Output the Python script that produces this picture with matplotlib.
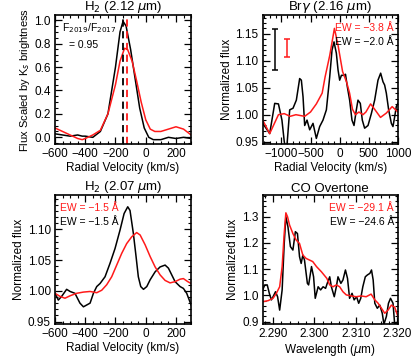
import numpy as np
import matplotlib
matplotlib.use("Agg")
import matplotlib.pyplot as plt
from matplotlib.ticker import AutoMinorLocator

plt.rcParams["font.family"] = ["Liberation Sans", "DejaVu Sans"]
plt.rcParams["mathtext.fontset"] = "dejavusans"

# --- H2 2.12 um (flux scaled) ---
h212_v_blk = [-600, -550, -500, -450, -420, -400, -350, -300, -250, -200, -170, -150,
              -130, -100, -70, -40, -10, 20, 50, 100, 150, 200, 250, 300]
h212_f_blk = [0.03, 0.02, 0.01, 0.02, 0.01, 0.01, 0.0, 0.05, 0.2, 0.6, 0.9, 0.99,
              0.95, 0.75, 0.5, 0.25, 0.08, 0.0, -0.02, -0.02, 0.0, -0.01, 0.0, -0.01]
h212_v_red = [-600, -550, -500, -450, -420, -400, -350, -300, -250, -200, -170, -140,
              -120, -90, -60, -30, 0, 30, 60, 100, 150, 200, 250, 300]
h212_f_red = [0.08, 0.05, 0.02, -0.01, -0.02, -0.01, 0.02, 0.06, 0.2, 0.45, 0.65, 0.76,
              0.75, 0.65, 0.48, 0.3, 0.15, 0.07, 0.05, 0.05, 0.07, 0.09, 0.07, 0.02]
h212_peak_blk = -148
h212_peak_red = -127

# --- Br gamma 2.16 um ---
brg_v_blk = [-1320, -1200, -1114, -1050, -990, -950, -913, -857, -800, -743, -686, -657,
             -628, -600, -560, -514, -457, -400, -343, -286, -228, -171, -131, -97,
             -57, -28, 0, 30, 74, 100, 131, 171, 211, 246, 286, 314, 354, 388, 428,
             486, 543, 600, 657, 703, 743, 771, 800, 840, 886, 914, 943, 971, 1000]
brg_f_blk = [0.984, 0.965, 1.021, 1.02, 0.99, 0.95, 0.93, 1.009, 1.012, 1.027, 1.067, 1.064,
             1.033, 0.98, 0.99, 0.972, 0.984, 0.956, 0.978, 0.99, 1.009, 1.07, 1.12, 1.135,
             1.114, 1.083, 1.064, 1.073, 1.073, 1.075, 1.052, 1.027, 0.99, 0.98, 1.009,
             1.027, 1.021, 0.99, 0.975, 0.98, 1.002, 1.027, 1.064, 1.077, 1.061, 1.055,
             1.04, 1.009, 0.984, 0.978, 0.996, 1.015, 1.021]
brg_v_red = [-1320, -1200, -1050, -950, -850, -750, -600, -500, -400, -300, -250, -170,
             -90, -30, 50, 120, 170, 220, 270, 330, 400, 450, 530, 600, 700, 800, 900, 1000]
brg_f_red = [0.99, 0.965, 1.0, 1.002, 0.997, 1.0, 0.997, 1.005, 1.02, 1.04, 1.07, 1.11,
             1.16, 1.13, 1.08, 1.06, 1.04, 1.01, 1.0, 1.005, 1.0, 1.005, 1.02, 1.01,
             0.995, 1.003, 1.015, 1.005]
brg_err_x = [-1109, -908]
brg_err_lo = [1.082, 1.107]
brg_err_hi = [1.158, 1.14]

# --- H2 2.07 um ---
h207_v_blk = [-600, -578, -556, -523, -500, -468, -435, -412, -390, -368, -346, -324, -302,
              -269, -236, -203, -170, -143, -119, -104, -82, -64, -49, -33, -15, 7, 29,
              62, 95, 128, 150, 172, 194, 227, 249, 271, 300]
h207_f_blk = [0.996, 0.985, 0.991, 1.0025, 0.999, 0.996, 0.98, 0.974, 0.977, 0.98, 0.996,
              1.007, 1.012, 1.023, 1.045, 1.069, 1.099, 1.126, 1.137, 1.131, 1.094, 1.056,
              1.023, 1.007, 1.0025, 1.007, 1.018, 1.031, 1.039, 1.042, 1.037, 1.026, 1.015,
              1.007, 1.004, 0.996, 0.977]
h207_v_red = [-600, -567, -534, -500, -457, -412, -368, -324, -291, -258, -225, -192, -159,
              -126, -93, -60, -37, -4, 29, 62, 95, 128, 161, 194, 227, 249, 278, 300]
h207_f_red = [0.996, 0.991, 0.988, 0.992, 0.996, 0.998, 0.999, 0.997, 1.001, 1.01, 1.023,
              1.042, 1.061, 1.077, 1.088, 1.095, 1.091, 1.075, 1.056, 1.039, 1.026, 1.017,
              1.013, 1.015, 1.019, 1.02, 1.015, 1.012]

# --- CO overtone ---
co_w_blk = [2.2875, 2.2880, 2.2886, 2.2891, 2.2896, 2.2900, 2.2906, 2.2911, 2.2916, 2.2922,
            2.2927, 2.2931, 2.2936, 2.2942, 2.2948, 2.2954, 2.2959, 2.2964, 2.2968, 2.2972,
            2.2976, 2.2983, 2.2986, 2.2993, 2.2998, 2.3002, 2.3009, 2.3015, 2.3021, 2.3027,
            2.3031, 2.3037, 2.3041, 2.3048, 2.3053, 2.3057, 2.3064, 2.3069, 2.3075, 2.3080,
            2.3085, 2.3091, 2.3096, 2.3102, 2.3107, 2.3112, 2.3117, 2.3123, 2.3128, 2.3134,
            2.3138, 2.3142, 2.3146, 2.3152, 2.3158, 2.3164, 2.3168, 2.3174, 2.3179, 2.3184,
            2.3190, 2.3194, 2.3202]
co_f_blk = [1.021, 1.04, 1.04, 1.008, 0.983, 0.995, 1.014, 0.995, 0.944, 1.021, 1.198, 1.3,
            1.262, 1.186, 1.173, 1.243, 1.236, 1.148, 1.122, 1.154, 1.135, 1.046, 1.04, 1.11,
            1.071, 0.989, 1.033, 1.021, 1.033, 1.027, 1.046, 1.071, 1.033, 0.995, 1.033,
            1.071, 1.046, 1.059, 1.097, 1.065, 0.989, 1.008, 0.983, 0.995, 0.97, 0.989,
            1.033, 1.071, 1.078, 1.084, 1.097, 1.059, 0.97, 0.951, 0.963, 0.932, 0.89,
            0.92, 0.97, 0.989, 0.97, 0.89, 0.9]
co_w_red = [2.2875, 2.2888, 2.2900, 2.2908, 2.2916, 2.2922, 2.2927, 2.2931, 2.2935, 2.2940,
            2.2948, 2.2956, 2.2964, 2.2972, 2.2980, 2.2988, 2.2996, 2.3005, 2.3017, 2.3030,
            2.3037, 2.3045, 2.3053, 2.3061, 2.3069, 2.3077, 2.3089, 2.3101, 2.3113, 2.3125,
            2.3137, 2.3146, 2.3154, 2.3162, 2.3170, 2.3178, 2.3186, 2.3194, 2.3202]
co_f_red = [0.976, 0.98, 0.989, 1.008, 1.033, 1.11, 1.236, 1.315, 1.3, 1.268, 1.236, 1.211,
            1.198, 1.154, 1.141, 1.135, 1.129, 1.11, 1.09, 1.065, 1.04, 1.033, 1.04, 1.033,
            1.014, 1.002, 0.998, 0.995, 0.998, 0.995, 1.005, 0.983, 0.97, 0.951, 0.932,
            0.944, 0.963, 0.955, 0.919]

RED = "#ff1a1a"
LW = 1.1
FS_TICK = 8.5
FS_TITLE = 9.5
FS_LABEL = 8.5
FS_EW = 7.5

fig = plt.figure(figsize=(4.15, 3.6), dpi=100)
ax1 = fig.add_axes([0.1325, 0.600, 0.328, 0.358])
ax2 = fig.add_axes([0.633, 0.600, 0.326, 0.358])
ax3 = fig.add_axes([0.1325, 0.100, 0.328, 0.358])
ax4 = fig.add_axes([0.633, 0.100, 0.326, 0.358])


def style(ax):
    ax.tick_params(which="both", direction="in", top=True, right=True,
                   labelsize=FS_TICK, pad=3)
    ax.tick_params(which="major", length=5, width=0.9)
    ax.tick_params(which="minor", length=2.5, width=0.8)
    ax.xaxis.set_minor_locator(AutoMinorLocator())
    ax.yaxis.set_minor_locator(AutoMinorLocator())
    for s in ax.spines.values():
        s.set_linewidth(1.2)


# panel 1
ax1.plot(h212_v_blk, h212_f_blk, color="black", lw=LW)
ax1.plot(h212_v_red, h212_f_red, color=RED, lw=LW)
ax1.axvline(h212_peak_blk, color="black", ls=(0, (4, 2.5)), lw=1.3)
ax1.axvline(h212_peak_red, color=RED, ls=(0, (4, 2.5)), lw=1.3)
ax1.set_xlim(-600, 300)
ax1.set_ylim(-0.057, 1.043)
ax1.set_xticks([-600, -400, -200, 0, 200])
ax1.set_yticks([0.0, 0.2, 0.4, 0.6, 0.8, 1.0])
ax1.set_yticklabels(["0.0", "0.2", "0.4", "0.6", "0.8", "1.0"])
ax1.set_title(r"H$_2$ (2.12 $\mu$m)", fontsize=FS_TITLE, pad=1)
ax1.set_xlabel("Radial Velocity (km/s)", fontsize=FS_LABEL, labelpad=1)
ax1.set_ylabel(r"Flux Scaled by K$_s$ brightness", fontsize=8, labelpad=2)
ax1.text(0.05, 0.95, r"F$_{2019}$/F$_{2017}$", transform=ax1.transAxes,
         fontsize=7.5, va="top", ha="left")
ax1.text(0.10, 0.81, "= 0.95", transform=ax1.transAxes,
         fontsize=7.5, va="top", ha="left")
style(ax1)

# panel 2
ax2.plot(brg_v_blk, brg_f_blk, color="black", lw=LW)
ax2.plot(brg_v_red, brg_f_red, color=RED, lw=LW)
for xe, lo, hi, c in zip(brg_err_x, brg_err_lo, brg_err_hi, ["black", RED]):
    ax2.errorbar([xe], [(lo + hi) / 2], yerr=[[(hi - lo) / 2]], color=c,
                 capsize=2.5, lw=1.1, capthick=1.1, fmt="none")
ax2.set_xlim(-1320, 1000)
ax2.set_ylim(0.9457, 1.1846)
ax2.set_xticks([-1000, -500, 0, 500, 1000])
ax2.set_yticks([0.95, 1.00, 1.05, 1.10, 1.15])
ax2.set_yticklabels(["0.95", "1.00", "1.05", "1.10", "1.15"])
ax2.set_title(r"Br$\gamma$ (2.16 $\mu$m)", fontsize=FS_TITLE, pad=1)
ax2.set_xlabel("Radial Velocity (km/s)", fontsize=FS_LABEL, labelpad=1)
ax2.set_ylabel("Normalized flux", fontsize=FS_LABEL, labelpad=2)
ax2.text(0.97, 0.94, "EW = \u22123.8 \u00c5", color=RED, transform=ax2.transAxes,
         fontsize=FS_EW, ha="right", va="top")
ax2.text(0.97, 0.83, "EW = \u22122.0 \u00c5", color="black", transform=ax2.transAxes,
         fontsize=FS_EW, ha="right", va="top")
style(ax2)

# panel 3
ax3.plot(h207_v_blk, h207_f_blk, color="black", lw=LW)
ax3.plot(h207_v_red, h207_f_red, color=RED, lw=LW)
ax3.set_xlim(-600, 300)
ax3.set_ylim(0.946, 1.156)
ax3.set_xticks([-600, -400, -200, 0, 200])
ax3.set_yticks([0.95, 1.00, 1.05, 1.10])
ax3.set_yticklabels(["0.95", "1.00", "1.05", "1.10"])
ax3.set_title(r"H$_2$ (2.07 $\mu$m)", fontsize=FS_TITLE, pad=1)
ax3.set_xlabel("Radial Velocity (km/s)", fontsize=FS_LABEL, labelpad=1)
ax3.set_ylabel("Normalized flux", fontsize=FS_LABEL, labelpad=2)
ax3.text(0.04, 0.94, "EW = \u22121.5 \u00c5", color=RED, transform=ax3.transAxes,
         fontsize=FS_EW, ha="left", va="top")
ax3.text(0.04, 0.83, "EW = \u22121.5 \u00c5", color="black", transform=ax3.transAxes,
         fontsize=FS_EW, ha="left", va="top")
style(ax3)

# panel 4
ax4.plot(co_w_blk, co_f_blk, color="black", lw=LW)
ax4.plot(co_w_red, co_f_red, color=RED, lw=LW)
ax4.set_xlim(2.2875, 2.3202)
ax4.set_ylim(0.891, 1.3825)
ax4.set_xticks([2.290, 2.300, 2.310, 2.320])
ax4.set_xticklabels(["2.290", "2.300", "2.310", "2.320"])
ax4.set_yticks([0.9, 1.0, 1.1, 1.2, 1.3])
ax4.set_yticklabels(["0.9", "1.0", "1.1", "1.2", "1.3"])
ax4.set_title("CO Overtone", fontsize=FS_TITLE, pad=1)
ax4.set_xlabel(r"Wavelength ($\mu$m)", fontsize=FS_LABEL, labelpad=1)
ax4.set_ylabel("Normalized flux", fontsize=FS_LABEL, labelpad=2)
ax4.text(0.97, 0.94, "EW = \u221229.1 \u00c5", color=RED, transform=ax4.transAxes,
         fontsize=FS_EW, ha="right", va="top")
ax4.text(0.97, 0.83, "EW = \u221224.6 \u00c5", color="black", transform=ax4.transAxes,
         fontsize=FS_EW, ha="right", va="top")
style(ax4)

fig.savefig("out.png", dpi=100)
